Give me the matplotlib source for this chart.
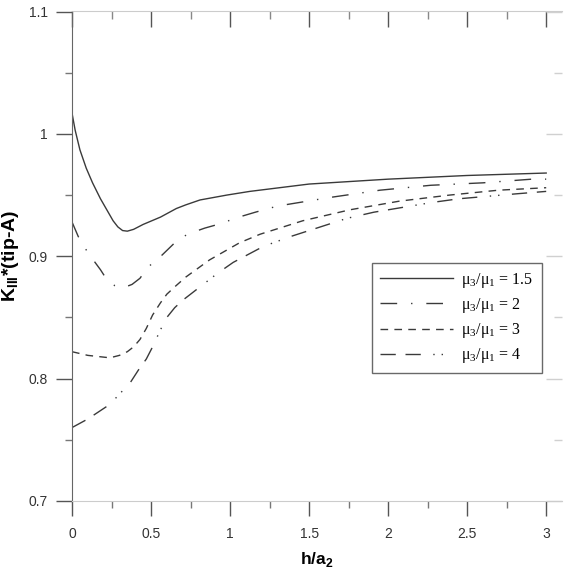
import matplotlib
matplotlib.use("Agg")
import matplotlib.pyplot as plt
from matplotlib.ticker import MultipleLocator

x1 = [0, 0.02, 0.05, 0.09, 0.13, 0.18, 0.22, 0.26, 0.29, 0.32, 0.35, 0.39, 0.45, 0.56, 0.66, 0.72, 0.81, 0.98, 1.125, 1.5, 2.0, 2.5, 3.0]
y1 = [1.017, 1.003, 0.987, 0.972, 0.960, 0.947, 0.938, 0.929, 0.924, 0.921, 0.9205, 0.922, 0.926, 0.932, 0.939, 0.942, 0.946, 0.950, 0.953, 0.959, 0.963, 0.966, 0.968]

x2 = [0, 0.04, 0.1, 0.18, 0.22, 0.27, 0.32, 0.38, 0.43, 0.48, 0.57, 0.65, 0.73, 0.84, 0.95, 1.03, 1.16, 1.30, 1.63, 1.95, 2.27, 2.6, 2.91, 3.0]
y2 = [0.928, 0.916, 0.903, 0.889, 0.881, 0.876, 0.874, 0.877, 0.882, 0.891, 0.901, 0.911, 0.918, 0.923, 0.927, 0.931, 0.936, 0.941, 0.948, 0.954, 0.958, 0.960, 0.963, 0.963]

x3 = [0, 0.1, 0.24, 0.3, 0.35, 0.39, 0.43, 0.47, 0.51, 0.56, 0.60, 0.65, 0.72, 0.87, 1.06, 1.19, 1.46, 1.76, 2.07, 2.39, 2.70, 3.0]
y3 = [0.822, 0.819, 0.817, 0.819, 0.822, 0.826, 0.832, 0.841, 0.852, 0.862, 0.869, 0.875, 0.883, 0.897, 0.911, 0.918, 0.929, 0.938, 0.945, 0.950, 0.954, 0.956]

x4 = [0, 0.1, 0.24, 0.37, 0.42, 0.47, 0.51, 0.56, 0.60, 0.65, 0.70, 0.77, 0.85, 0.92, 1.02, 1.21, 1.38, 1.74, 1.91, 2.28, 2.45, 2.81, 3.0]
y4 = [0.760, 0.767, 0.779, 0.797, 0.807, 0.816, 0.826, 0.840, 0.850, 0.858, 0.864, 0.871, 0.879, 0.886, 0.895, 0.908, 0.916, 0.931, 0.936, 0.944, 0.947, 0.951, 0.953]

labels = [r"$\mathregular{\mu_3/\mu_1}$ = 1.5", r"$\mathregular{\mu_3/\mu_1}$ = 2",
          r"$\mathregular{\mu_3/\mu_1}$ = 3", r"$\mathregular{\mu_3/\mu_1}$ = 4"]

plt.rcParams['font.family'] = ['Liberation Sans', 'DejaVu Sans']

fig = plt.figure(figsize=(5.67, 5.76), dpi=100)
W, H = 567, 576
ax = fig.add_axes([72 / W, 1 - 501 / H, (562 - 72) / W, (501 - 11.5) / H])

lc = '#3a3a3a'
lw = 1.0
ax.plot(x1, y1, color=lc, lw=lw, label=labels[0])
ax.plot(x2, y2, color=lc, lw=lw, dashes=(12, 10, 1, 10), label=labels[1])
ax.plot(x3, y3, color=lc, lw=lw, dashes=(5.5, 4.5), label=labels[2])
ax.plot(x4, y4, color=lc, lw=lw, dashes=(11, 7, 11, 9, 1, 5, 1, 9), label=labels[3])

ax.set_xlim(0, 3.1)
ax.set_ylim(0.7, 1.1)
ax.xaxis.set_minor_locator(MultipleLocator(0.25))
ax.yaxis.set_minor_locator(MultipleLocator(0.05))
ax.set_xticks([0, 0.5, 1, 1.5, 2, 2.5, 3])
ax.set_xticklabels(['0', '0.5', '1', '1.5', '2', '2.5', '3'])
ax.set_yticks([0.7, 0.8, 0.9, 1.0, 1.1])
ax.set_yticklabels(['0.7', '0.8', '0.9', '1', '1.1'])

ax.spines['top'].set_visible(False)
ax.spines['right'].set_visible(False)
ax.spines['left'].set_color('#666666')
ax.spines['bottom'].set_color('#cccccc')

ax.tick_params(axis='x', which='major', direction='out', length=11, width=1, color='#555555',
               labelsize=10, labelcolor='#333333', pad=8)
ax.tick_params(axis='x', which='minor', direction='out', length=5, width=1, color='#777777')
ax.tick_params(axis='y', which='major', direction='out', length=11.5, width=1, color='#555555',
               labelsize=10, labelcolor='#333333', pad=6)
ax.tick_params(axis='y', which='minor', direction='out', length=5, width=1, color='#777777')

# top axis (inward ticks)
top = ax.secondary_xaxis('top')
top.set_xticks([0, 0.5, 1, 1.5, 2, 2.5, 3])
top.xaxis.set_minor_locator(MultipleLocator(0.25))
top.tick_params(which='major', direction='in', length=11.5, width=1, color='#555555', labeltop=False)
top.tick_params(which='minor', direction='in', length=6, width=1, color='#888888')
top.spines['top'].set_color('#cccccc')

# right axis (inward light ticks)
right = ax.secondary_yaxis('right')
right.set_yticks([0.7, 0.8, 0.9, 1.0, 1.1])
right.yaxis.set_minor_locator(MultipleLocator(0.05))
right.tick_params(which='major', direction='in', length=11.5, width=1, color='#d0d0d0', labelright=False)
right.tick_params(which='minor', direction='in', length=6, width=1, color='#d0d0d0')
right.spines['right'].set_visible(False)

ax.set_xlabel(r'h/a$_\mathregular{2}$', fontsize=12.5, fontweight='bold', labelpad=6)
ax.set_ylabel(r'K$_\mathregular{III}$*(tip-A)', fontsize=14, fontweight='bold', labelpad=5)

leg = ax.legend(loc='upper left', bbox_to_anchor=((372 - 72) / 490, (501 - 263) / 489.5),
                prop={'family': 'Liberation Serif', 'size': 11.5}, frameon=True, fancybox=False,
                handlelength=4.6, handletextpad=0.5, labelspacing=0.38, borderpad=0.5,
                borderaxespad=0)
leg.get_frame().set_edgecolor('#444444')
leg.get_frame().set_linewidth(1.0)

fig.savefig('out.png', dpi=100)
